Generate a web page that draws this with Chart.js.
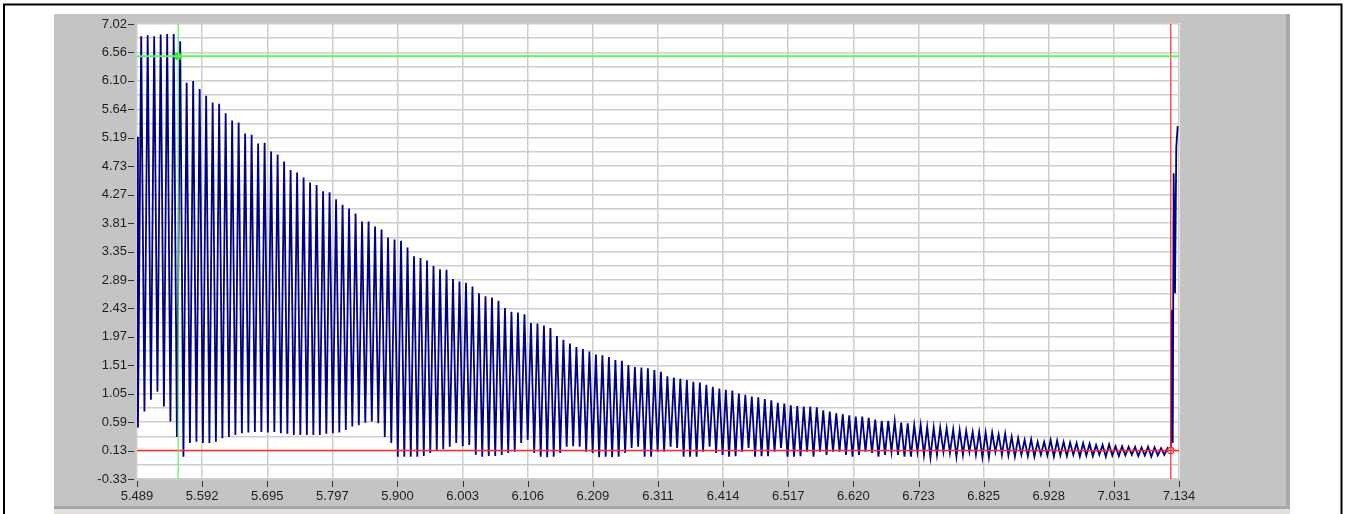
<!DOCTYPE html>
<html>
<head>
<meta charset="utf-8">
<script src="https://cdn.jsdelivr.net/npm/chart.js@4/dist/chart.umd.min.js"></script>
<style>
  html, body { margin: 0; padding: 0; background: #fff; }
  canvas { display: block; }
</style>
</head>
<body>
<canvas id="scope" width="1345" height="514"></canvas>
<script>
// Axis ranges and tick labels
const xMin = 5.489, xMax = 7.134;
const yMin = -0.33, yMax = 7.02;
const xTickLabels = ['5.489', '5.592', '5.695', '5.797', '5.900', '6.003', '6.106', '6.209', '6.311',
  '6.414', '6.517', '6.620', '6.723', '6.825', '6.928', '7.031', '7.134'];
const yTickLabels = ['-0.33', '0.13', '0.59', '1.05', '1.51', '1.97', '2.43', '2.89', '3.35',
  '3.81', '4.27', '4.73', '5.19', '5.64', '6.10', '6.56', '7.02'];

// Signal: first sample, then a trough and a peak for every cycle
const startTime = 5.489, startValue = 5.20;
const firstTroughTime = 5.4905, cyclePeriod = 0.010255;
const troughs = [
  0.50, 0.76, 0.95, 1.08, 0.84, 0.60, 0.35, 0.03,
  0.25, 0.27, 0.25, 0.25, 0.27, 0.33, 0.35, 0.38, 0.41, 0.42, 0.43, 0.43, 0.42, 0.43, 0.41, 0.40, 0.38, 0.38, 0.38,
  0.38, 0.38, 0.40, 0.41, 0.42, 0.46, 0.52, 0.54, 0.58, 0.60, 0.57, 0.35, 0.25, 0.03, 0.03, 0.03, 0.03, 0.04, 0.09,
  0.13, 0.15, 0.19, 0.25, 0.20, 0.22, 0.06, 0.03,
  0.04, 0.04, 0.06, 0.09, 0.11, 0.25, 0.30, 0.09, 0.03, 0.02, 0.03, 0.09, 0.19, 0.20, 0.19, 0.11, 0.09, 0.02, 0.03,
  0.02, 0.03, 0.09, 0.17, 0.19, 0.03, 0.03,
  0.11, 0.11, 0.19, 0.17, 0.03, 0.03, 0.03, 0.11, 0.19, 0.09, 0.06, 0.03, 0.04, 0.11, 0.17, 0.03, 0.04, 0.04, 0.11,
  0.17, 0.03, 0.03, 0.04, 0.11, 0.03, 0.11,
  0.06, 0.11, 0.11, 0.06, 0.03, 0.06, 0.11, 0.09, 0.03, 0.06, 0.11, 0.06, 0.03, 0.03, 0.11, 0.06, 0.02, 0.06, 0.11,
  0.09, 0.03, 0.06, 0.11, 0.06, 0.02, 0.02, 0.11, 0.06,
  0.05, 0.03, 0.06, 0.04, 0.03, 0.06, 0.05, 0.03, 0.05, 0.04, 0.06, 0.03, 0.05, 0.04, 0.06, 0.03, 0.05, 0.04, 0.05,
  0.06, 0.04, 0.05, 0.03, 0.05, 0.06,
  0.12
];
const peaks = [
  6.82, 6.84, 6.82, 6.85, 6.86, 6.86, 6.74,
  6.07, 6.10, 5.97, 5.86, 5.75, 5.73, 5.58, 5.46, 5.43, 5.25, 5.23, 5.09, 5.10, 4.96, 4.91, 4.80, 4.66, 4.62, 4.54,
  4.46, 4.42, 4.32, 4.30, 4.19, 4.10, 4.04, 3.96, 3.83, 3.83, 3.75, 3.70, 3.57, 3.54, 3.52, 3.41, 3.27, 3.24,
  3.20, 3.11, 3.06, 3.05, 2.90, 2.86, 2.84, 2.78, 2.67, 2.62,
  2.60, 2.55, 2.43, 2.37, 2.36, 2.33, 2.19, 2.18, 2.15, 2.11, 1.98, 1.92, 1.86, 1.80, 1.77, 1.73, 1.68, 1.67, 1.64,
  1.59, 1.58, 1.51, 1.48, 1.47, 1.46, 1.43,
  1.40, 1.33, 1.31, 1.29, 1.27, 1.24, 1.23, 1.19, 1.16, 1.13, 1.11, 1.10, 1.05, 1.03, 1.00, 0.99, 0.96, 0.94, 0.90,
  0.89, 0.86, 0.85, 0.84, 0.84, 0.83, 0.78,
  0.76, 0.73, 0.72, 0.70, 0.68, 0.68, 0.66, 0.63, 0.61, 0.61, 0.60, 0.58, 0.57, 0.54, 0.54, 0.51, 0.50, 0.50, 0.49,
  0.47, 0.46, 0.45, 0.43, 0.43, 0.42, 0.42, 0.39,
  0.40, 0.35, 0.33, 0.30, 0.31, 0.27, 0.27, 0.30, 0.29, 0.27, 0.26, 0.25, 0.25, 0.24, 0.22, 0.22, 0.23, 0.20, 0.20,
  0.19, 0.19, 0.18, 0.19, 0.18, 0.17, 0.17
];
// Final rise after the red cursor
const riseTimes = [7.1225, 7.1241, 7.1256, 7.1277, 7.1297, 7.1319];
const riseValues = [2.40, 0.25, 4.61, 2.67, 5.02, 5.37];

// Cursors (green, red)
const cursorX = [5.554, 7.121];
const cursorY = [6.50, 0.13];

const signal = [{ x: startTime, y: startValue }];
troughs.forEach((v, k) => {
  signal.push({ x: firstTroughTime + k * cyclePeriod, y: v });
  if (k < peaks.length) signal.push({ x: firstTroughTime + (k + 0.5) * cyclePeriod, y: peaks[k] });
});
riseTimes.forEach((t, i) => signal.push({ x: t, y: riseValues[i] }));

function evenTicks(min, max, n) {
  const out = [];
  for (let i = 0; i <= n; i++) out.push({ value: min + (max - min) * i / n });
  return out;
}

function cursorSets(i, color, hWidth, vWidth) {
  return [
    { data: [{ x: xMin, y: cursorY[i] }, { x: xMax, y: cursorY[i] }], borderColor: color, borderWidth: hWidth },
    { data: [{ x: cursorX[i], y: yMin }, { x: cursorX[i], y: yMax }], borderColor: color, borderWidth: vWidth }
  ];
}

// Panel backgrounds and tick dashes
const panelPlugin = {
  id: 'panel',
  beforeDraw(chart) {
    const c = chart.ctx, a = chart.chartArea;
    c.save();
    c.fillStyle = '#ffffff';
    c.fillRect(0, 0, chart.width, chart.height);
    c.fillStyle = '#c4c4c4';
    c.fillRect(54, 14, 1236, 493);
    c.fillStyle = '#a9a9a9';
    c.fillRect(1286, 14, 4, 493);
    c.fillRect(54, 506, 1236, 3);
    c.fillStyle = '#e2dfdb';
    c.fillRect(54, 509, 1236, 5);
    c.fillStyle = '#ffffff';
    c.fillRect(a.left, a.top - 1, a.right - a.left + 1, a.bottom - a.top + 1);
    c.strokeStyle = '#000000';
    c.lineWidth = 2;
    c.strokeRect(4, 4.5, 1337.5, 600);
    c.restore();
  },
  afterDraw(chart) {
    const c = chart.ctx, a = chart.chartArea;
    const xs = chart.scales.x, ys = chart.scales.y;
    c.save();
    c.strokeStyle = '#333333';
    c.lineWidth = 1;
    c.beginPath();
    yTickLabels.forEach((_, j) => {
      const py = Math.round(ys.getPixelForValue(yMin + (yMax - yMin) * j / 16)) + 0.5;
      c.moveTo(a.left - 9, py);
      c.lineTo(a.left - 3, py);
    });
    xTickLabels.forEach((_, j) => {
      const px = Math.round(xs.getPixelForValue(xMin + (xMax - xMin) * j / 16)) + 0.5;
      c.moveTo(px, a.bottom + 2);
      c.lineTo(px, a.bottom + 8);
    });
    c.stroke();
    c.restore();
  }
};

const tickFont = { family: 'Liberation Sans', size: 13 };

new Chart(document.getElementById('scope'), {
  type: 'line',
  data: {
    datasets: [
      ...cursorSets(0, '#5cf55c', 2, 1.2),
      ...cursorSets(1, '#ff2a2a', 1.6, 1.2),
      { data: [{ x: cursorX[0], y: cursorY[0] }], showLine: false, pointRadius: 3.5,
        pointBackgroundColor: '#22e022', pointBorderColor: '#22e022' },
      { data: [{ x: cursorX[1], y: cursorY[1] }], showLine: false, pointRadius: 3.2,
        pointBackgroundColor: '#ffffff', pointBorderColor: '#ff2020', pointBorderWidth: 1.2 },
      { data: signal, borderColor: '#000080', borderWidth: 1.8, order: 1 }
    ].map(d => Object.assign({ order: 0, pointRadius: 0, tension: 0, fill: false }, d))
  },
  options: {
    responsive: false,
    animation: false,
    parsing: false,
    normalized: true,
    layout: { padding: { left: 54, right: 166, top: 24, bottom: 9 } },
    plugins: { legend: { display: false }, tooltip: { enabled: false } },
    elements: { point: { hoverRadius: 0 } },
    scales: {
      x: {
        type: 'linear', min: xMin, max: xMax,
        afterBuildTicks: s => { s.ticks = evenTicks(xMin, xMax, 16); },
        afterFit: s => { s.height = 26; },
        border: { display: false },
        grid: { color: '#cdcdcd', lineWidth: 1.5, drawTicks: false },
        ticks: { autoSkip: false, maxRotation: 0, padding: 10, color: '#1e1e1e', font: tickFont,
          callback: (v, i) => xTickLabels[i] }
      },
      y: {
        type: 'linear', min: yMin, max: yMax,
        afterBuildTicks: s => { s.ticks = evenTicks(yMin, yMax, 32); },
        afterFit: s => { s.width = 83; },
        border: { display: false },
        grid: { color: '#cdcdcd', lineWidth: 1.5, drawTicks: false },
        ticks: { autoSkip: false, padding: 10, color: '#1e1e1e', font: tickFont,
          callback: (v, i) => (i % 2 === 0 ? yTickLabels[i / 2] : '') }
      }
    }
  },
  plugins: [panelPlugin]
});
</script>
</body>
</html>
